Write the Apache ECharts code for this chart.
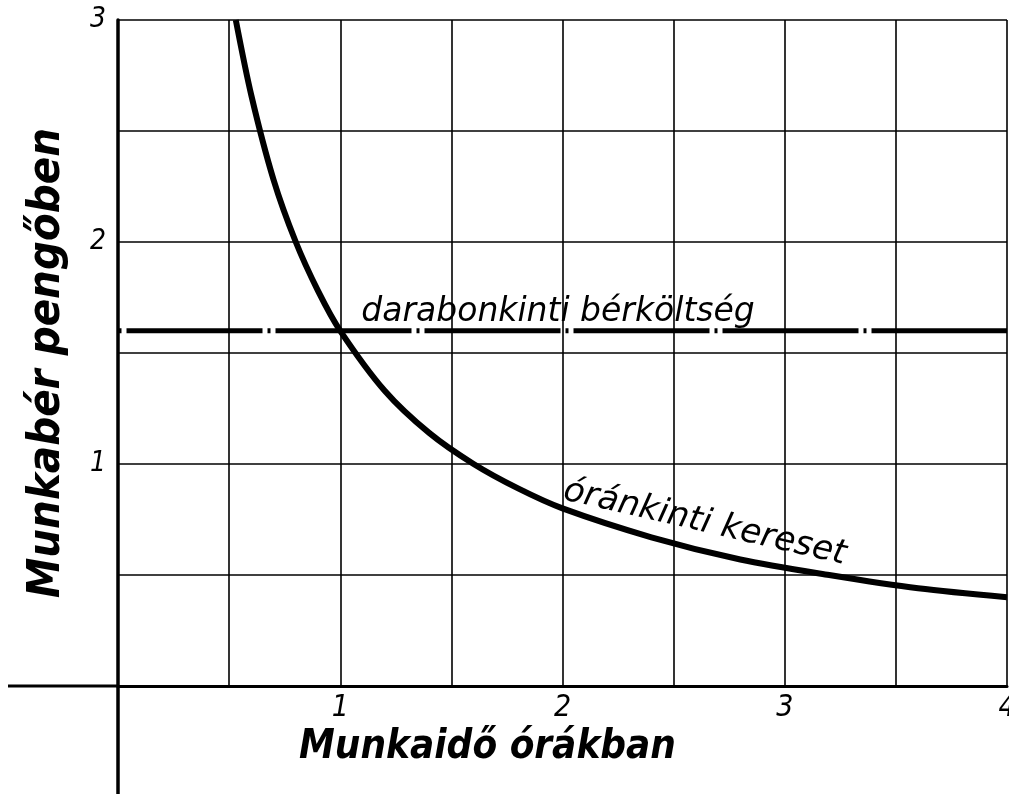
<!DOCTYPE html>
<html>
<head>
<meta charset="utf-8">
<title>Munkabér pengőben</title>
<script src="https://cdn.jsdelivr.net/npm/echarts@6/dist/echarts.min.js"></script>
<style>
  html, body { margin: 0; padding: 0; background: #fff; }
  #chart { width: 1009px; height: 794px; }
</style>
</head>
<body>
<div id="chart"></div>
<script>
// tengely feliratok
const xTicks = [1, 2, 3, 4];
const yTicks = [1, 2, 3];
const xName = "Munkaidő órákban";
const yName = "Munkabér pengőben";

// darabonkinti bérköltség - vízszintes vonal
const pieceX = [0, 4];
const pieceY = [1.6, 1.6];
const pieceLabel = "darabonkinti bérköltség";

// óránkinti kereset - a képről leolvasott pontok
const hourX = [0.53, 0.6, 0.7, 0.8, 0.9, 1.0, 1.2, 1.4, 1.6, 1.8, 2.0, 2.4, 2.8, 3.2, 3.6, 4.0];
const hourY = [3.0, 2.66, 2.28, 2.0, 1.78, 1.6, 1.33, 1.14, 1.0, 0.89, 0.8, 0.67, 0.57, 0.5, 0.44, 0.4];
const hourLabel = "óránkinti kereset";

const font = '"DejaVu Sans Condensed", "DejaVu Sans", sans-serif';
const wideFont = '"DejaVu Sans", sans-serif';
const ink = "#000";

const chart = echarts.init(document.getElementById("chart"));

chart.setOption({
  animation: false,
  backgroundColor: "#fff",
  grid: {
    left: 118,
    right: 2,
    top: 20,
    bottom: 108,
    outerBoundsMode: "none",
  },
  xAxis: {
    type: "value",
    min: 0,
    max: 4,
    interval: 0.5,
    name: xName,
    nameLocation: "middle",
    nameGap: 34,
    nameTextStyle: {
      color: ink,
      fontFamily: font,
      fontSize: 40,
      fontStyle: "italic",
      fontWeight: "bold",
      padding: [0, 150, 0, 0],
    },
    axisLine: { show: true, onZero: true, lineStyle: { color: ink, width: 3 } },
    axisTick: { show: false },
    splitLine: { show: true, lineStyle: { color: ink, width: 1.6 } },
    axisLabel: {
      showMaxLabel: true,
      margin: 7,
      color: ink,
      fontFamily: font,
      fontSize: 30,
      fontStyle: "italic",
      formatter: (v) => (xTicks.includes(v) ? String(v) : ""),
    },
  },
  yAxis: {
    type: "value",
    min: 0,
    max: 3,
    interval: 0.5,
    name: yName,
    nameLocation: "middle",
    nameGap: 48,
    nameTextStyle: {
      color: ink,
      fontFamily: font,
      fontSize: 45,
      fontStyle: "italic",
      fontWeight: "bold",
      padding: [0, 20, 0, 0],
    },
    axisLine: { show: true, lineStyle: { color: ink, width: 3.5 } },
    axisTick: { show: false },
    splitLine: { show: true, lineStyle: { color: ink, width: 1.6 } },
    axisLabel: {
      showMaxLabel: true,
      margin: 12,
      color: ink,
      fontFamily: font,
      fontSize: 28,
      fontStyle: "italic",
      formatter: (v) => (yTicks.includes(v) ? String(v) : ""),
    },
  },
  series: [
    {
      name: pieceLabel,
      type: "line",
      data: pieceX.map((x, i) => [x, pieceY[i]]),
      symbol: "none",
      lineStyle: { color: ink, width: 5, type: [136, 5, 3, 5], dashOffset: -8.5 },
      markPoint: {
        symbol: "circle",
        symbolSize: 0,
        data: [{ coord: [1.98, 1.6] }],
        label: {
          show: true,
          position: "top",
          distance: 2,
          formatter: pieceLabel,
          color: ink,
          fontFamily: wideFont,
          fontSize: 33,
          fontStyle: "italic",
        },
      },
    },
    {
      name: hourLabel,
      type: "line",
      data: hourX.map((x, i) => [x, hourY[i]]),
      symbol: "none",
      smooth: 0.3,
      lineStyle: { color: ink, width: 6 },
      markPoint: {
        symbol: "circle",
        symbolSize: 0,
        data: [{ coord: [2.64, 0.735] }],
        label: {
          show: true,
          position: "inside",
          rotate: -13,
          formatter: hourLabel,
          color: ink,
          fontFamily: wideFont,
          fontSize: 34,
          fontStyle: "italic",
        },
      },
    },
  ],
});

// a tengelyek az origón túl is folytatódnak
const o = chart.convertToPixel({ gridIndex: 0 }, [0, 0]);
chart.setOption({
  graphic: [
    { type: "line", shape: { x1: 8, y1: o[1], x2: o[0], y2: o[1] }, style: { stroke: ink, lineWidth: 3 } },
    { type: "line", shape: { x1: o[0], y1: o[1], x2: o[0], y2: 794 }, style: { stroke: ink, lineWidth: 3.5 } },
  ],
});
</script>
</body>
</html>
